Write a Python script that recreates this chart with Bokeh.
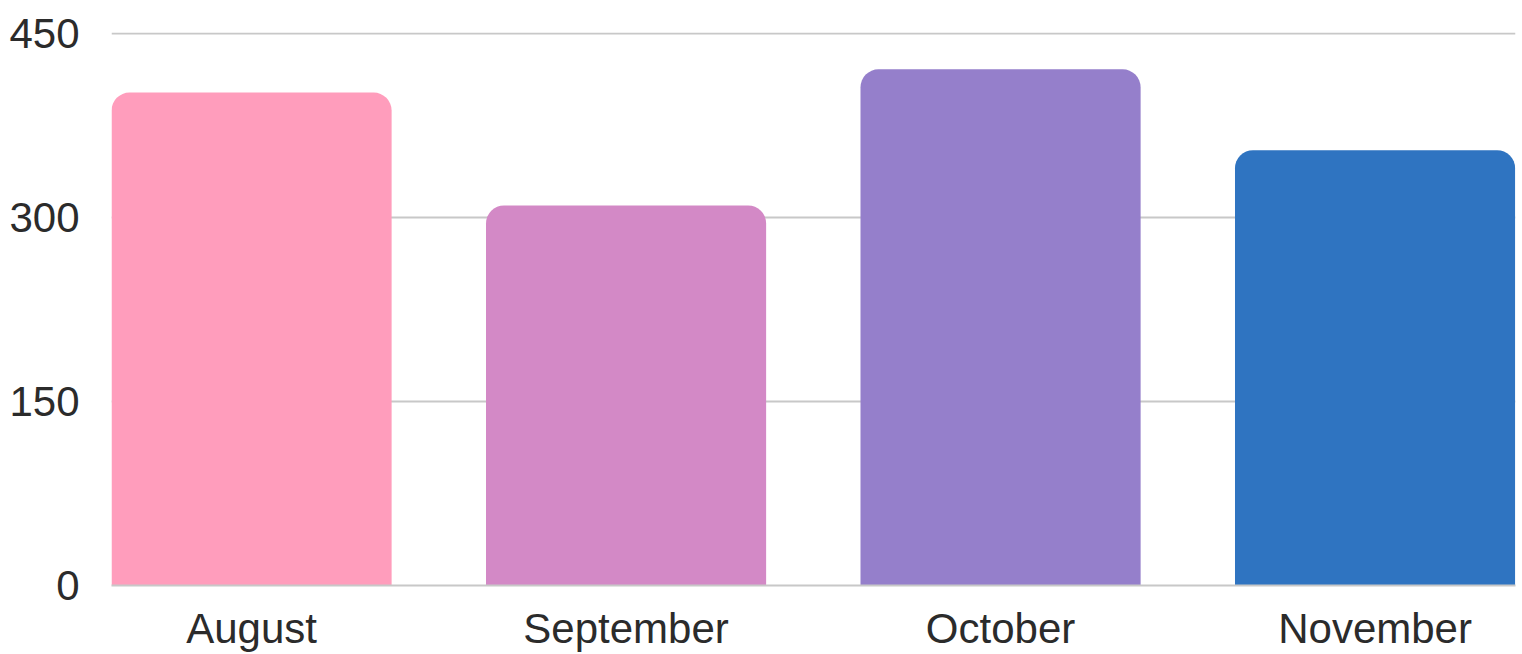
from bokeh.plotting import figure
from bokeh.models import ColumnDataSource, FixedTicker, Range1d
from bokeh.embed import file_html
from bokeh.resources import INLINE

months = ["August", "September", "October", "November"]
values = [402, 310, 421, 355]
colors = ["#FF9DBC", "#D389C6", "#957FCB", "#2F74C1"]
y_ticks = [0, 150, 300, 450]

positions = list(range(len(months)))
src = ColumnDataSource(dict(x=positions, top=values, color=colors, month=months))

p = figure(width=1522, height=654, output_backend="svg", toolbar_location=None,
           x_range=Range1d(-0.374, 3.375), y_range=Range1d(0, 451),
           min_border_left=111, min_border_right=7, min_border_top=32, min_border_bottom=68)
p.outline_line_color = None
p.background_fill_color = "white"
p.border_fill_color = "white"

p.vbar(x="x", top="top", bottom=0, width=0.748, fill_color="color", line_color=None,
       border_radius=(18, 18, 0, 0), source=src)

p.xaxis.ticker = FixedTicker(ticks=positions)
p.xaxis.major_label_overrides = {i: m for i, m in enumerate(months)}
p.yaxis.ticker = FixedTicker(ticks=y_ticks)

for ax in (p.xaxis, p.yaxis):
    ax.major_tick_line_color = None
    ax.minor_tick_line_color = None
    ax.major_label_text_font = "Liberation Sans"
    ax.major_label_text_font_size = "42px"
    ax.major_label_text_color = "#2b2b2b"

p.yaxis.axis_line_color = None
p.yaxis.major_label_standoff = 26
p.xaxis.axis_line_color = "#c8c8c8"
p.xaxis.axis_line_width = 2
p.xaxis.major_label_standoff = 13

p.xgrid.grid_line_color = None
p.ygrid.grid_line_color = "#c8c8c8"
p.ygrid.grid_line_width = 2

open("out.html", "w").write(file_html(p, INLINE))
